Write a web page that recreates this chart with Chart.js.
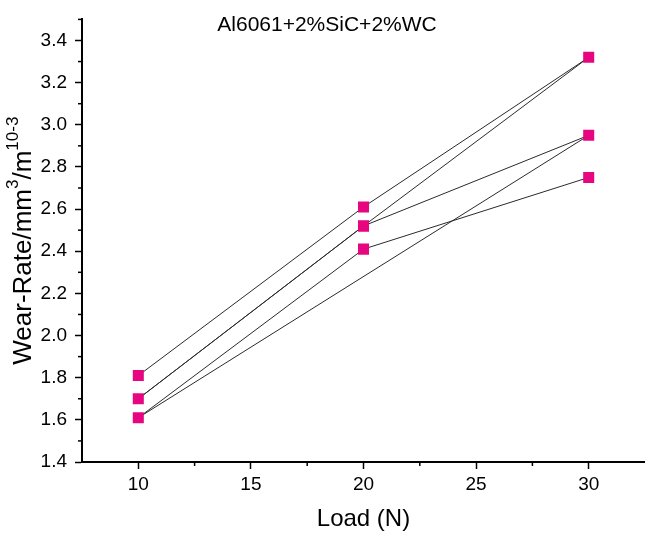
<!DOCTYPE html>
<html>
<head>
<meta charset="utf-8">
<script src="https://cdn.jsdelivr.net/npm/chart.js@4.4.1/dist/chart.umd.min.js"></script>
<style>
  html, body { margin: 0; padding: 0; background: #fff; }
  #wrap { width: 645px; height: 536px; }
</style>
</head>
<body>
<div id="wrap"><canvas id="c" width="645" height="536"></canvas></div>
<script>
// ---- data (drawing order of the connecting polyline, as in the original) ----
const loadSequence     = [10, 20, 30, 20, 10, 20, 30, 10, 20, 30];
const wearRateSequence = [1.81, 2.61, 3.32, 2.52, 1.70, 2.52, 2.95, 1.61, 2.41, 2.75];

// ---- axis ticks / labels ----
const xMajorTicks = [10, 15, 20, 25, 30];
const xMinorTicks = [12.5, 17.5, 22.5, 27.5];
const yMajorTicks = [1.4, 1.6, 1.8, 2.0, 2.2, 2.4, 2.6, 2.8, 3.0, 3.2, 3.4];
const yMinorTicks = [1.5, 1.7, 1.9, 2.1, 2.3, 2.5, 2.7, 2.9, 3.1, 3.3, 3.5];
const chartTitle = 'Al6061+2%SiC+2%WC';
const xTitle = 'Load (N)';
const yTitleParts = [['Wear-Rate/mm', false], ['3', true], ['/m', false], ['10-3', true]];

const FONT = '"Liberation Sans", Arial, Helvetica, sans-serif';

const extras = {
  id: 'extras',
  afterDraw(chart) {
    const { ctx, scales: { x, y }, chartArea } = chart;
    ctx.save();
    // minor ticks
    ctx.strokeStyle = '#000';
    ctx.lineWidth = 1.5;
    yMinorTicks.forEach(v => {
      const py = y.getPixelForValue(v);
      ctx.beginPath(); ctx.moveTo(chartArea.left, py); ctx.lineTo(chartArea.left - 4, py); ctx.stroke();
    });
    xMinorTicks.forEach(v => {
      const px = x.getPixelForValue(v);
      ctx.beginPath(); ctx.moveTo(px, chartArea.bottom); ctx.lineTo(px, chartArea.bottom + 4); ctx.stroke();
    });
    // chart title
    ctx.fillStyle = '#000';
    ctx.font = '21px ' + FONT;
    ctx.textAlign = 'center';
    ctx.textBaseline = 'middle';
    ctx.fillText(chartTitle, 327, 25);
    // y title with superscripts
    const mainSize = 26, supSize = 17;
    let total = 0;
    yTitleParts.forEach(([t, sup]) => {
      ctx.font = (sup ? supSize : mainSize) + 'px ' + FONT;
      total += ctx.measureText(t).width;
    });
    ctx.translate(21, (chartArea.top + chartArea.bottom) / 2);
    ctx.rotate(-Math.PI / 2);
    ctx.textAlign = 'left';
    ctx.textBaseline = 'alphabetic';
    let cx = -total / 2;
    const base = 10;
    yTitleParts.forEach(([t, sup]) => {
      ctx.font = (sup ? supSize : mainSize) + 'px ' + FONT;
      ctx.fillText(t, cx, sup ? base - 13.5 : base);
      cx += ctx.measureText(t).width;
    });
    ctx.restore();
  }
};

new Chart(document.getElementById('c'), {
  type: 'scatter',
  data: {
    datasets: [{
      data: loadSequence.map((v, i) => ({ x: v, y: wearRateSequence[i] })),
      showLine: true,
      borderColor: '#2a2a2a',
      borderWidth: 1,
      pointStyle: 'rect',
      pointRadius: 7.8,
      pointHoverRadius: 7.8,
      pointBackgroundColor: '#E6067F',
      pointBorderColor: '#E6067F',
      pointBorderWidth: 0,
      tension: 0
    }]
  },
  options: {
    responsive: false,
    devicePixelRatio: 1,
    animation: false,
    events: [],
    layout: { autoPadding: false, padding: { top: 9, right: 0, left: 0, bottom: 0 } },
    plugins: { legend: { display: false }, tooltip: { enabled: false }, title: { display: false } },
    scales: {
      x: {
        type: 'linear',
        min: 7.5, max: 32.5,
        afterBuildTicks: s => { s.ticks = xMajorTicks.map(v => ({ value: v })); },
        afterFit: s => { s.height = 74; },
        grid: { drawOnChartArea: false, drawTicks: true, tickLength: 7, tickColor: '#000', tickWidth: 1.5 },
        border: { display: true, color: '#000', width: 2 },
        ticks: { color: '#000', font: { family: FONT, size: 19 }, padding: 4, maxRotation: 0, callback: v => String(v) },
        title: { display: true, text: xTitle, color: '#000', font: { family: FONT, size: 24 }, padding: { top: 0, bottom: 2 } }
      },
      y: {
        type: 'linear',
        min: 1.4, max: 3.5,
        afterBuildTicks: s => { s.ticks = yMajorTicks.map(v => ({ value: v })); },
        afterFit: s => { s.width = 82; },
        grid: { drawOnChartArea: false, drawTicks: true, tickLength: 7, tickColor: '#000', tickWidth: 1.5 },
        border: { display: true, color: '#000', width: 2 },
        ticks: { color: '#000', font: { family: FONT, size: 19 }, padding: 8, callback: v => Number(v).toFixed(1) },
        title: { display: false }
      }
    }
  },
  plugins: [extras]
});
</script>
</body>
</html>
